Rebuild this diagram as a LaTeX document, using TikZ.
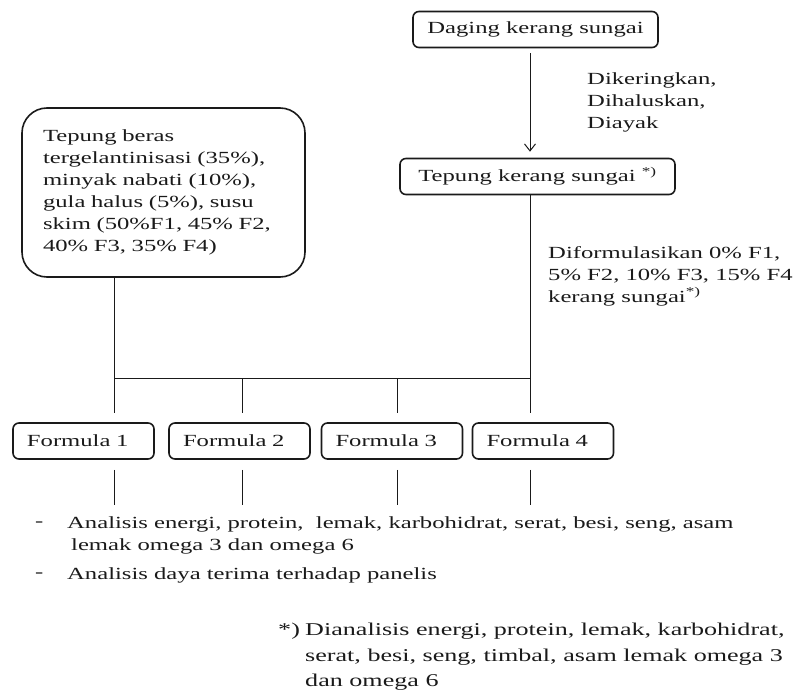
\documentclass[tikz,border=0pt]{standalone}
\usepackage{fontspec}
\setmainfont[FakeStretch=1.45]{Liberation Serif}
\usepackage{tikz}
\usetikzlibrary{arrows.meta}
\definecolor{Tinta}{HTML}{1A1A1A}

\begin{document}
\begin{tikzpicture}[x=1pt, y=-1pt,
    every node/.style={font=\fontsize{17pt}{22pt}\selectfont, text=Tinta},
    kotak/.style={draw=Tinta, line width=1.6pt, rounded corners=6pt, minimum height=36pt, inner sep=0pt},
    formula/.style={kotak, text width=113pt, inner xsep=14pt, align=left},
    teks/.style={inner sep=0pt, align=left},
    catatan/.style={teks, font=\fontsize{18pt}{25.5pt}\selectfont},
    garis/.style={draw=Tinta, line width=1pt}
]
\useasboundingbox (0,0) rectangle (793,693);

\node[kotak, minimum width=245pt] (daging) at (535.5,29.5) {Daging kerang sungai};
\node[kotak, minimum width=275pt] (tepung) at (537.5,176.5) {Tepung kerang sungai \textsuperscript{*)}};
\node[
    kotak,
    rounded corners=25pt,
    minimum height=169pt,
    text width=241pt,
    inner xsep=21pt,
    align=left
] (bahan) at (163.5,192.5) {%
    Tepung beras\\
    tergelantinisasi (35\%),\\
    minyak nabati (10\%),\\
    gula halus (5\%), susu\\
    skim (50\%F1, 45\% F2,\\
    40\% F3, 35\% F4)
};

\node[formula] (f1) at (83.5,441) {Formula 1};
\node[formula] (f2) at (239.5,441) {Formula 2};
\node[formula] (f3) at (392,441) {Formula 3};
\node[formula] (f4) at (543,441) {Formula 4};

\node[teks, anchor=north west] (proses) at (587,73) {Dikeringkan,\\Dihaluskan,\\Diayak};
\node[teks, anchor=north west] (formulasi) at (548,246) {%
    Diformulasikan 0\% F1,\\
    5\% F2, 10\% F3, 15\% F4\\
    kerang sungai\textsuperscript{*)}};

\coordinate (t1) at (114,378);
\coordinate (t2) at (242,378);
\coordinate (t3) at (397,378);
\coordinate (t4) at (530,378);
\coordinate (bawah) at (0,505);

\draw[garis, -{Straight Barb[length=7pt, width=11pt]}, shorten <=5pt, shorten >=6pt]
    (t4 |- daging.south) -- (t4 |- tepung.north);
\draw[garis] (t1 |- bahan.south) -- (t1) -- (t4) -- (t4 |- tepung.south);
\foreach \i in {1,...,4} {
    \draw[garis, shorten >=9pt] (t\i) -- (t\i |- f\i.north);
    \draw[garis, shorten <=10pt] (t\i |- f\i.south) -- (t\i |- bawah);
}

\node[teks, anchor=west] (strip1) at (35,524) {-};
\node[teks, anchor=north west] (analisis1) at (67,517) {%
    Analisis energi, protein,\ \ lemak, karbohidrat, serat, besi, seng, asam\\
    \hspace{4pt}lemak omega 3 dan omega 6};
\node[teks, anchor=west] (strip2) at (35,575) {-};
\node[teks, anchor=west] (analisis2) at (67,575) {Analisis daya terima terhadap panelis};

\node[catatan, anchor=west] (bintang) at (278,631) {*)};
\node[catatan, anchor=north west] (keterangan) at (305,623) {%
    Dianalisis energi, protein, lemak, karbohidrat,\\
    serat, besi, seng, timbal, asam lemak omega 3\\
    dan omega 6};
\end{tikzpicture}
\end{document}
